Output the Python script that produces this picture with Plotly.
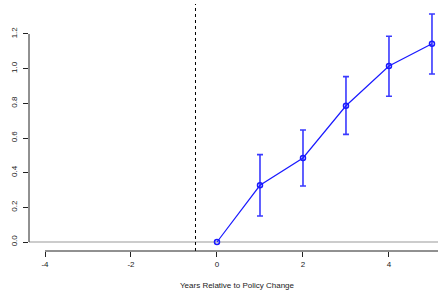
import plotly.graph_objects as go

years = [0, 1, 2, 3, 4, 5]
estimate = [0.0, 0.327, 0.485, 0.786, 1.015, 1.144]
ci_low = [None, 0.150, 0.323, 0.621, 0.841, 0.969]
ci_high = [None, 0.504, 0.646, 0.954, 1.187, 1.315]
x_ticks = [-4, -2, 0, 2, 4]
y_ticks = [0.0, 0.2, 0.4, 0.6, 0.8, 1.0, 1.2]
policy_line = -0.5

err_plus = [0 if h is None else h - e for h, e in zip(ci_high, estimate)]
err_minus = [0 if l is None else e - l for l, e in zip(ci_low, estimate)]
vis_err = [h is not None for h in ci_high]

fig = go.Figure()

fig.add_trace(go.Scatter(
    x=[x for x, v in zip(years, vis_err) if v],
    y=[e for e, v in zip(estimate, vis_err) if v],
    mode="markers",
    marker=dict(size=1, color="rgba(0,0,0,0)"),
    error_y=dict(type="data", symmetric=False,
                 array=[p for p, v in zip(err_plus, vis_err) if v],
                 arrayminus=[m for m, v in zip(err_minus, vis_err) if v],
                 color="#3a3aff", thickness=1.6, width=3),
    hoverinfo="skip", showlegend=False,
))

fig.add_trace(go.Scatter(
    x=years, y=estimate, mode="lines+markers",
    line=dict(color="#1a1aff", width=1.2),
    marker=dict(symbol="circle-open", size=5, color="#1a1aff", line=dict(width=1.5)),
    showlegend=False,
))

font = dict(family="Liberation Sans, Arial, sans-serif", size=8, color="#222222")

fig.update_layout(
    width=438, height=295,
    margin=dict(l=29, r=0, t=4, b=44),
    paper_bgcolor="white", plot_bgcolor="white",
    font=font,
    xaxis=dict(range=[-4.372, 5.140], tickvals=x_ticks, ticktext=[str(t) for t in x_ticks],
               ticks="outside", ticklen=5, tickwidth=1, tickcolor="#222",
               showgrid=False, zeroline=False, showline=False, tickfont=font),
    yaxis=dict(range=[-0.0519, 1.373], tickvals=y_ticks, ticktext=[f"{t:.1f}" for t in y_ticks],
               ticks="outside", ticklen=5, tickwidth=1, tickcolor="#222", tickangle=-90,
               ticklabelstandoff=3,
               showgrid=False, zeroline=False, showline=False, tickfont=font),
    shapes=[
        dict(type="line", xref="paper", yref="y", x0=0, x1=1, y0=0, y1=0,
             line=dict(color="#bbbbbb", width=1.5), layer="below"),
        dict(type="line", xref="x", yref="paper", x0=policy_line, x1=policy_line, y0=0, y1=1,
             line=dict(color="black", width=1, dash="dot")),
        dict(type="line", xref="paper", yref="y", x0=0, x1=0, y0=y_ticks[0], y1=y_ticks[-1],
             line=dict(color="#222", width=1)),
        dict(type="line", xref="x", yref="paper", x0=x_ticks[0], x1=5.140, y0=0, y1=0,
             line=dict(color="#222", width=1)),
    ],
    annotations=[dict(text="Years Relative to Policy Change", xref="paper", yref="paper",
                      x=0.511, y=-0.1377, xanchor="center", yanchor="middle",
                      showarrow=False, font=font)],
)

fig.write_html("out.html", config={"displayModeBar": False},
               post_script="document.body.style.margin='0';document.body.style.overflow='hidden';")
